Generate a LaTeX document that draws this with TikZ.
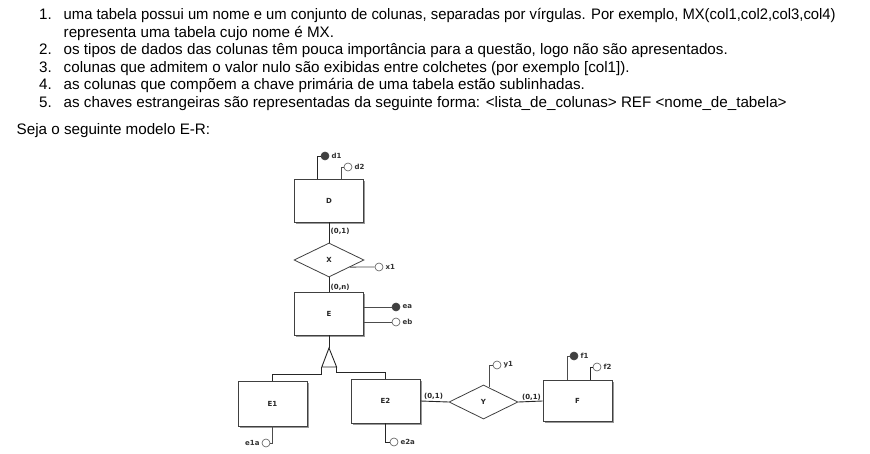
\documentclass[tikz,border=0pt]{standalone}
\usepackage{fontspec}
\usepackage{graphicx}
\usetikzlibrary{shapes.geometric,shadows,calc}
\newfontfamily\txtfont{Liberation Sans}
\newfontfamily\dgfont{DejaVu Sans}
\tikzset{
  txt/.style={anchor=base west,inner sep=0pt,font=\txtfont\fontsize{15.2}{17}\selectfont},
  entity/.style={draw=black!75,line width=0.9pt,fill=white,minimum width=69pt,inner sep=0pt,
    font=\dgfont\bfseries\fontsize{7}{8}\selectfont,text=black!85,
    drop shadow={shadow xshift=1.6pt,shadow yshift=-1.6pt,fill=black!40,opacity=1}},
  rel/.style={diamond,draw=black!75,line width=0.8pt,fill=white,inner sep=0pt,
    minimum width=70pt,minimum height=34pt,font=\dgfont\bfseries\fontsize{7}{8}\selectfont,text=black!85},
  conn/.style={draw=black!85,line width=0.9pt},
  attrline/.style={draw=black!70,line width=0.8pt},
  attrF/.style={circle,draw=black!75,fill=black!75,line width=0.6pt,minimum size=8pt,inner sep=0pt},
  attrO/.style={circle,draw=black!65,fill=white,line width=0.6pt,minimum size=8pt,inner sep=0pt},
  lbl/.style={font=\dgfont\bfseries\fontsize{7}{8}\selectfont,text=black!80,inner sep=0.5pt,label distance=1.5pt},
  card/.style={font=\dgfont\bfseries\fontsize{7}{8}\selectfont,text=black!85,inner sep=0.5pt},
}
\begin{document}
\begin{tikzpicture}[x=1pt,y=-1pt]
\useasboundingbox[fill=white] (0,0) rectangle (870,454);
% ---- text ----
\node[txt] (n1) at (39,20) {1.};
\node[txt] (t1) at (63.5,20) {\resizebox{772pt}{\height}{uma tabela possui um nome e um conjunto de colunas, separadas por vírgulas. Por exemplo, MX(col1,col2,col3,col4)}};
\node[txt] (t1b) at (63.5,37.4) {representa uma tabela cujo nome é MX.};
\node[txt] (n2) at (39,54.9) {2.};
\node[txt] (t2) at (63.5,54.9) {os tipos de dados das colunas têm pouca importância para a questão, logo não são apresentados.};
\node[txt] (n3) at (39,72.3) {3.};
\node[txt] (t3) at (63.5,72.3) {colunas que admitem o valor nulo são exibidas entre colchetes (por exemplo [col1]).};
\node[txt] (n4) at (39,89.7) {4.};
\node[txt] (t4) at (63.5,89.7) {as colunas que compõem a chave primária de uma tabela estão sublinhadas.};
\node[txt] (n5) at (39,107.1) {5.};
\node[txt] (t5) at (63.5,107.1) {as chaves estrangeiras são representadas da seguinte forma: <lista\_de\_colunas> REF <nome\_de\_tabela>};
\node[txt] (seja) at (16.5,134.5) {Seja o seguinte modelo E-R:};
% ---- diagram ----
\node[entity,minimum height=43pt] (D) at (329,200.5) {D};
\node[rel] (X) at (329,260) {X};
\node[entity,minimum height=43pt] (E) at (329,313.5) {E};
\node[entity,minimum height=45pt] (E1) at (272.5,403.5) {E1};
\node[entity,minimum height=44pt] (E2) at (385.5,401) {E2};
\node[rel,minimum width=69pt] (Y) at (483.5,402) {Y};
\node[entity,minimum height=41pt] (F) at (577.5,401) {F};
% relationships
\draw[conn] (D.south) -- (X.north);
\draw[conn] (X.south) -- (E.north);
\draw[conn] (E2.east) -- (Y.west);
\draw[conn] (Y.east) -- (F.west);
\node[card,anchor=west] (c1) at ([xshift=1pt,yshift=-9pt]D.south) {(0,1)};
\node[card,anchor=west] (c2) at ([xshift=1pt,yshift=-9.5pt]X.south) {(0,n)};
\node[card,anchor=south west] (c3) at ([xshift=3pt,yshift=0.5pt]E2.east) {(0,1)};
\node[card,anchor=south west] (c4) at ([xshift=3pt,yshift=0.5pt]Y.east) {(0,1)};
% generalisation
\coordinate (ta) at (329,348);
\coordinate (tl) at (321.8,367);
\coordinate (tr) at (336.6,367);
\coordinate (bl) at (321.8,374);
\coordinate (br) at (336.6,372);
\draw[conn] (E.south) -- (ta);
\draw[conn,fill=white] (ta) -- (tl) -- (tr) -- cycle;
\draw[conn] (tl) -- (bl) -| (E1.north);
\draw[conn] (tr) -- (br) -| (E2.north);
% attributes
\node[attrF,label={[lbl]right:d1}] (d1) at (325,156) {};
\node[attrO,label={[lbl]right:d2}] (d2) at (348,167) {};
\draw[conn] (d1.west) -| ([xshift=-12pt]D.north);
\draw[attrline] (d2.west) -| ([xshift=12pt]D.north);
\node[attrO,label={[lbl]right:x1}] (x1) at (379,267) {};
\draw[attrline] ($(X.east)!0.41!(X.south)$) -- (x1.west);
\node[attrF,label={[lbl]right:ea}] (ea) at (396,307) {};
\node[attrO,label={[lbl]right:eb}] (eb) at (396,322) {};
\draw[attrline] (ea.west) -- (ea.west -| E.east);
\draw[attrline] (eb.west) -- (eb.west -| E.east);
\node[attrO,label={[lbl]left:e1a}] (e1a) at (266,443) {};
\draw[attrline] (E1.south) |- (e1a.east);
\node[attrO,label={[lbl]right:e2a}] (e2a) at (394,442) {};
\draw[conn] (E2.south) |- (e2a.west);
\node[attrO,label={[lbl]right:y1}] (y1) at (497,365) {};
\draw[attrline] ($(Y.north)!0.16!(Y.east)$) |- (y1.west);
\node[attrF,label={[lbl]right:f1}] (f1) at (574,356) {};
\node[attrO,label={[lbl]right:f2}] (f2) at (597,367) {};
\draw[attrline] (f1.west) -| ([xshift=-10.5pt]F.north);
\draw[conn] (f2.west) -| ([xshift=12.5pt]F.north);
\end{tikzpicture}
\end{document}
